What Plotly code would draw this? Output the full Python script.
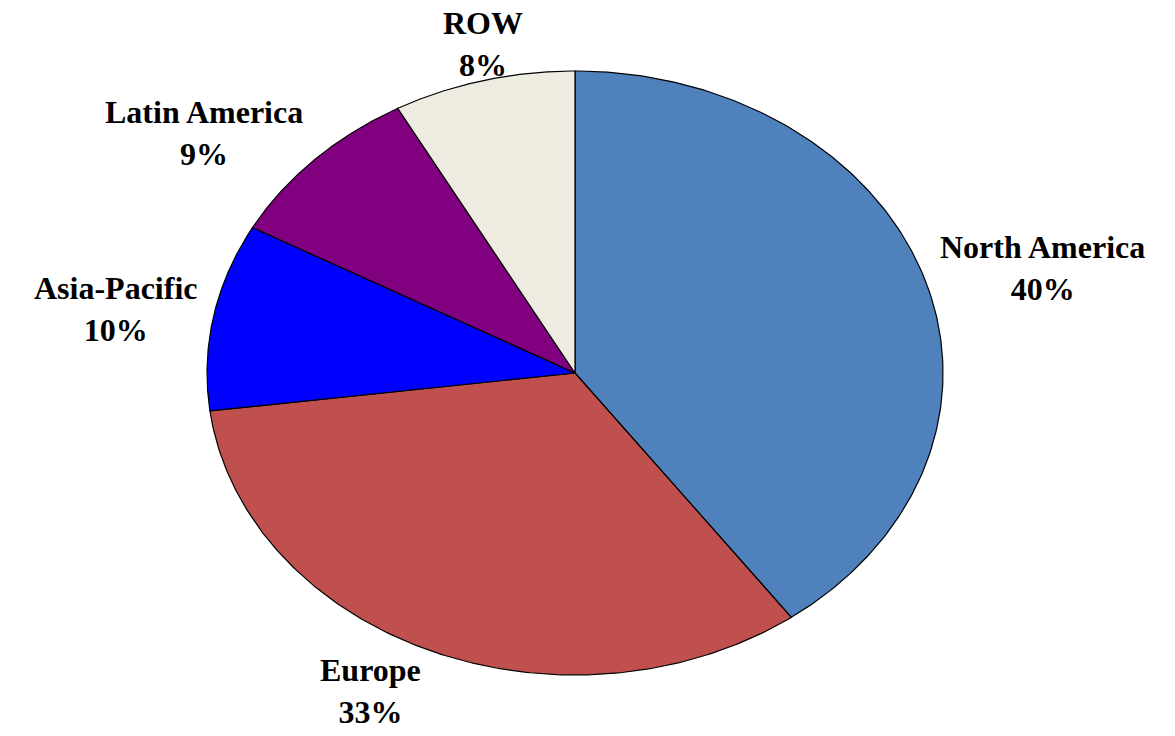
import numpy as np
import plotly.graph_objects as go

# ---- data ----
regions = ["North America", "Europe", "Asia-Pacific", "Latin America", "ROW"]
shares = [40, 33, 10, 9, 8]
colors = ["#4F81BD", "#C0504D", "#0000FF", "#800080", "#EEECE1"]

# ---- layout geometry (pixels) ----
W, H = 1175, 736
CX, CY = 575, 373      # pie centre in pixels
RX, RY = 368, 302      # ellipse radii in pixels
GAP_X = 14             # horizontal label gap in pixels
GAP_UP = 38            # vertical offset of label centre, upper half
GAP_DOWN = 45          # vertical offset of label centre, lower half

xr = [(-CX) / RX, (W - CX) / RX]
yr = [-(H - CY) / RY, CY / RY]

total = float(sum(shares))
fig = go.Figure()

cum = 0.0
annotations = []
for name, v, col in zip(regions, shares, colors):
    f0 = cum / total
    f1 = (cum + v) / total
    cum += v
    t = np.linspace(2 * np.pi * f0, 2 * np.pi * f1, 200)
    xs = np.concatenate([[0.0], np.sin(t), [0.0]])
    ys = np.concatenate([[0.0], np.cos(t), [0.0]])
    fig.add_trace(go.Scatter(
        x=xs, y=ys, mode="lines", fill="toself", fillcolor=col,
        line=dict(color="black", width=1.2), hoverinfo="skip",
        showlegend=False))

    tm = 2 * np.pi * (f0 + f1) / 2
    ux, uy = np.sin(tm), np.cos(tm)
    if ux > 0.3:
        xa = "left"
    elif ux < -0.3:
        xa = "right"
    else:
        xa = "center"
    gy = GAP_UP if uy > 0 else GAP_DOWN
    pct = round(v / total * 100)
    annotations.append(dict(
        x=ux, y=uy, xref="x", yref="y",
        text=f"<b>{name}</b><br><b>{pct}%</b>",
        showarrow=False, xanchor=xa, yanchor="middle", align="center",
        xshift=ux * GAP_X if xa != "center" else 0, yshift=uy * gy,
        font=dict(family="Liberation Serif", size=32, color="black")))

fig.update_layout(
    width=W, height=H,
    margin=dict(l=0, r=0, t=0, b=0),
    paper_bgcolor="white", plot_bgcolor="white",
    xaxis=dict(range=xr, visible=False, fixedrange=True),
    yaxis=dict(range=yr, visible=False, fixedrange=True),
    annotations=annotations,
    showlegend=False,
)

fig.write_html("out.html")
